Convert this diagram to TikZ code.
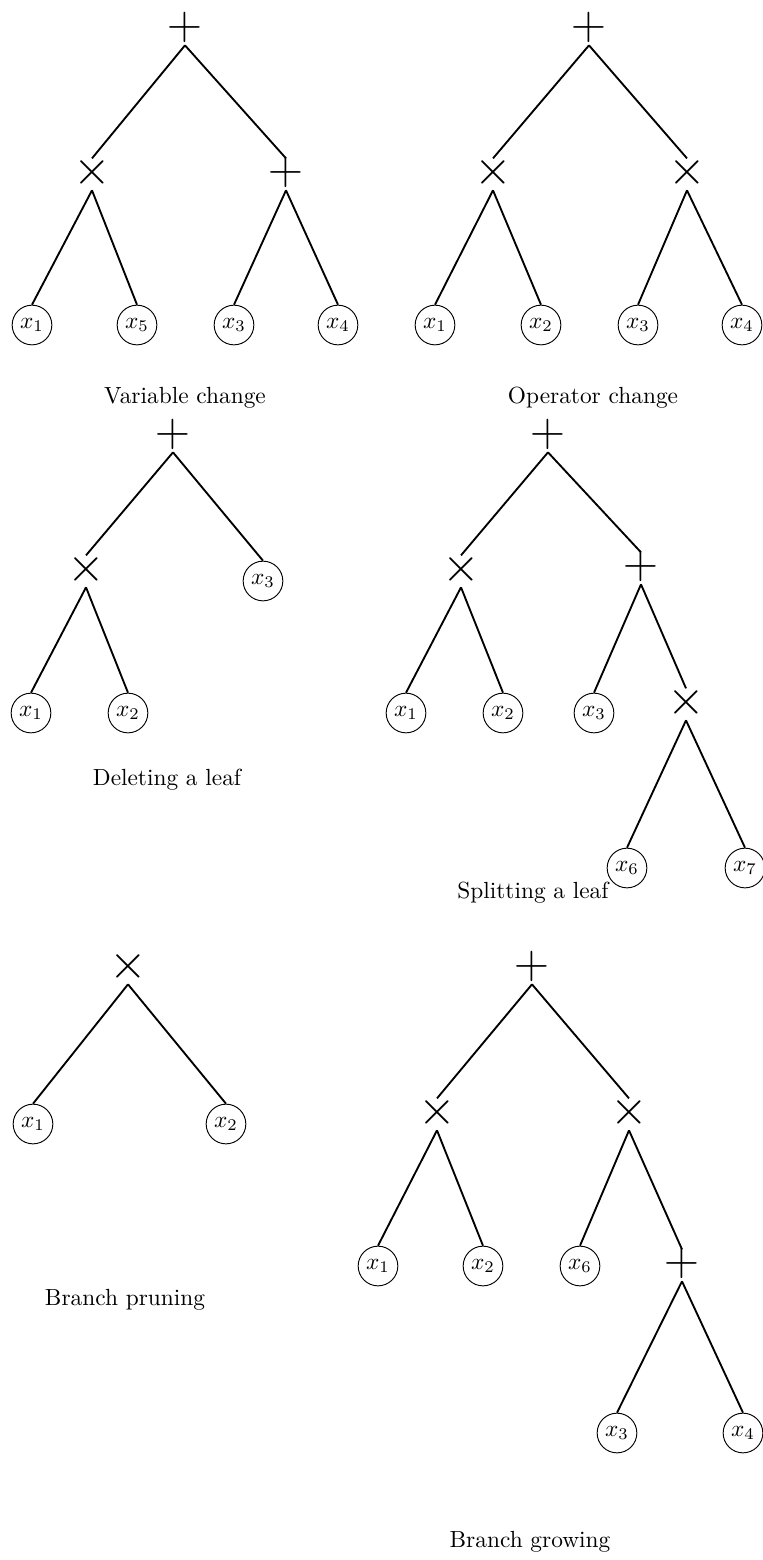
\documentclass[tikz,border=0pt]{standalone}
\usepackage{tikz}
\usetikzlibrary{positioning}
\tikzset{
    leaf/.style={circle,draw,thin,minimum size=17pt,inner sep=1pt},
    opnode/.style={font=\huge,inner sep=0pt,text height=10.8pt,text depth=2.5pt,yshift=-1pt},
    branch/.style={thick},
    caption/.style={font=\normalsize},
}

\begin{document}
\begin{tikzpicture}[x=0.4284pt,y=-0.4284pt]
    \useasboundingbox (0,0) rectangle (763,1560);

    % variable change
    \node[opnode] (vc) at (185,27) {$+$};
    \node[opnode] (vca) at (92,172) {$\times$};
    \node[opnode] (vcb) at (286,172) {$+$};
    \node[leaf] (vcx1) at (32,325) {$x_1$};
    \node[leaf] (vcx5) at (137,325) {$x_5$};
    \node[leaf] (vcx3) at (234,325) {$x_3$};
    \node[leaf] (vcx4) at (338,325) {$x_4$};
    \draw[branch] (vc.south) -- (vca.north) (vc.south) -- (vcb.north)
        (vca.south) -- (vcx1.north) (vca.south) -- (vcx5.north)
        (vcb.south) -- (vcx3.north) (vcb.south) -- (vcx4.north);
    \node[caption] (vccap) at (185,398) {Variable change};

    % operator change
    \node[opnode] (oc) at (589,27) {$+$};
    \node[opnode] (oca) at (493,172) {$\times$};
    \node[opnode] (ocb) at (687,172) {$\times$};
    \node[leaf] (ocx1) at (435,325) {$x_1$};
    \node[leaf] (ocx2) at (541,325) {$x_2$};
    \node[leaf] (ocx3) at (638,325) {$x_3$};
    \node[leaf] (ocx4) at (742,325) {$x_4$};
    \draw[branch] (oc.south) -- (oca.north) (oc.south) -- (ocb.north)
        (oca.south) -- (ocx1.north) (oca.south) -- (ocx2.north)
        (ocb.south) -- (ocx3.north) (ocb.south) -- (ocx4.north);
    \node[caption] (occap) at (593,398) {Operator change};

    % deleting a leaf
    \node[opnode] (dl) at (173,434) {$+$};
    \node[opnode] (dla) at (86,569) {$\times$};
    \node[leaf] (dlx3) at (263,581) {$x_3$};
    \node[leaf] (dlx1) at (31,713) {$x_1$};
    \node[leaf] (dlx2) at (128,713) {$x_2$};
    \draw[branch] (dl.south) -- (dla.north) (dl.south) -- (dlx3.north)
        (dla.south) -- (dlx1.north) (dla.south) -- (dlx2.north);
    \node[caption] (dlcap) at (167,780) {Deleting a leaf};

    % splitting a leaf
    \node[opnode] (sl) at (548,434) {$+$};
    \node[opnode] (sla) at (461,569) {$\times$};
    \node[opnode] (slb) at (641,566) {$+$};
    \node[leaf] (slx1) at (406,713) {$x_1$};
    \node[leaf] (slx2) at (503,713) {$x_2$};
    \node[leaf] (slx3) at (594,713) {$x_3$};
    \node[opnode] (slc) at (686,702) {$\times$};
    \node[leaf] (slx6) at (627,868) {$x_6$};
    \node[leaf] (slx7) at (745,868) {$x_7$};
    \draw[branch] (sl.south) -- (sla.north) (sl.south) -- (slb.north)
        (sla.south) -- (slx1.north) (sla.south) -- (slx2.north)
        (slb.south) -- (slx3.north) (slb.south) -- (slc.north)
        (slc.south) -- (slx6.north) (slc.south) -- (slx7.north);
    \node[caption] (slcap) at (533,893) {Splitting a leaf};

    % branch pruning
    \node[opnode] (bp) at (128,966) {$\times$};
    \node[leaf] (bpx1) at (33,1124) {$x_1$};
    \node[leaf] (bpx2) at (226,1124) {$x_2$};
    \draw[branch] (bp.south) -- (bpx1.north) (bp.south) -- (bpx2.north);
    \node[caption] (bpcap) at (125,1300) {Branch pruning};

    % branch growing
    \node[opnode] (bg) at (532,966) {$+$};
    \node[opnode] (bga) at (437,1112) {$\times$};
    \node[opnode] (bgb) at (629,1112) {$\times$};
    \node[leaf] (bgx1) at (378,1266) {$x_1$};
    \node[leaf] (bgx2) at (483,1266) {$x_2$};
    \node[leaf] (bgx6) at (580,1266) {$x_6$};
    \node[opnode] (bgc) at (682,1263) {$+$};
    \node[leaf] (bgx3) at (617,1433) {$x_3$};
    \node[leaf] (bgx4) at (743,1433) {$x_4$};
    \draw[branch] (bg.south) -- (bga.north) (bg.south) -- (bgb.north)
        (bga.south) -- (bgx1.north) (bga.south) -- (bgx2.north)
        (bgb.south) -- (bgx6.north) (bgb.south) -- (bgc.north)
        (bgc.south) -- (bgx3.north) (bgc.south) -- (bgx4.north);
    \node[caption] (bgcap) at (530,1542) {Branch growing};
\end{tikzpicture}
\end{document}
